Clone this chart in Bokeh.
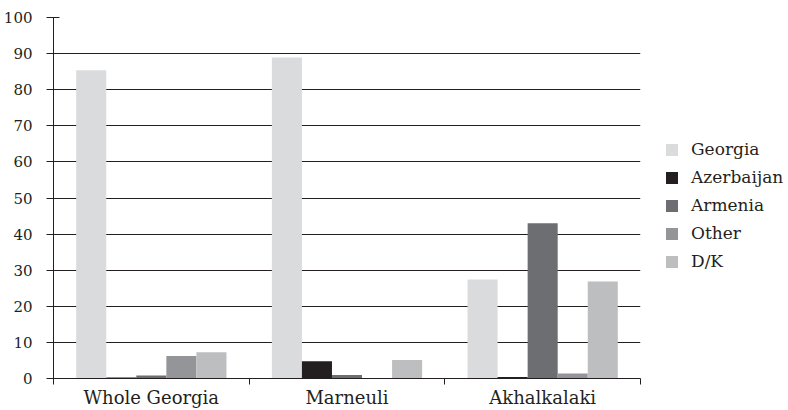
import numpy as np
from bokeh.plotting import figure
from bokeh.models import Range1d, FixedTicker, Legend, LegendItem, ColumnDataSource
from bokeh.embed import file_html
from bokeh.resources import INLINE

categories = ["Whole Georgia", "Marneuli", "Akhalkalaki"]
series = ["Georgia", "Azerbaijan", "Armenia", "Other", "D/K"]
georgia = [85.4, 88.9, 27.4]
azerbaijan = [0.3, 4.8, 0.4]
armenia = [0.8, 1.0, 43.0]
other = [6.2, 0.0, 1.4]
dk = [7.3, 5.1, 26.9]
colors = ["#dadbdc", "#231f20", "#6d6e71", "#939598", "#bcbec0"]
y_ticks = list(range(0, 101, 10))

FONT = "DejaVu Serif"
p = figure(frame_width=587, frame_height=361, output_backend="svg", toolbar_location=None,
           x_range=Range1d(0, 3), y_range=Range1d(0, 100),
           min_border_left=52, min_border_right=0, min_border_top=17, min_border_bottom=20)
p.outline_line_color = None
p.background_fill_color = "white"

values = [georgia, azerbaijan, armenia, other, dk]
bw = 0.1536
base = np.arange(len(categories)) + 0.5
items = []
for i, (name, vals, col) in enumerate(zip(series, values, colors)):
    src = ColumnDataSource(dict(x=base + (i - 2) * bw, top=vals))
    r = p.vbar(x="x", top="top", width=bw, bottom=0, source=src,
               fill_color=col, line_color=None)
    items.append(LegendItem(label=name, renderers=[r]))

# y axis
p.yaxis.ticker = FixedTicker(ticks=y_ticks)
p.yaxis.major_tick_in = 6
p.yaxis.major_tick_out = 7
p.yaxis.minor_tick_line_color = None
p.yaxis.major_label_standoff = 14
p.yaxis.major_label_text_font = FONT
p.yaxis.major_label_text_font_size = "15px"
p.yaxis.major_label_text_color = "#231f20"
p.yaxis.axis_line_color = "#231f20"
p.yaxis.major_tick_line_color = "#231f20"

# x axis
p.xaxis.ticker = FixedTicker(ticks=list(base), minor_ticks=[0, 1, 2, 3])
p.xaxis.major_label_overrides = {float(b): c for b, c in zip(base, categories)}
p.xaxis.major_tick_in = 0
p.xaxis.major_tick_out = 0
p.xaxis.minor_tick_in = 0
p.xaxis.minor_tick_out = 6
p.xaxis.minor_tick_line_color = "#231f20"
p.xaxis.major_label_standoff = 2
p.xaxis.major_label_text_font = FONT
p.xaxis.major_label_text_font_size = "18px"
p.xaxis.major_label_text_color = "#231f20"
p.xaxis.axis_line_color = "#231f20"

p.xgrid.grid_line_color = None
p.ygrid.grid_line_color = "#231f20"
p.ygrid.grid_line_width = 1

legend = Legend(items=items, location=(24, 107), orientation="vertical")
legend.label_text_font = FONT
legend.label_text_font_size = "17px"
legend.label_text_color = "#231f20"
legend.glyph_width = 15
legend.glyph_height = 15
legend.label_height = 20
legend.spacing = 8
legend.label_standoff = 12
legend.border_line_color = None
legend.background_fill_alpha = 0
legend.margin = 12
legend.padding = 2
p.add_layout(legend, "right")

open("out.html", "w").write(file_html(p, INLINE))
